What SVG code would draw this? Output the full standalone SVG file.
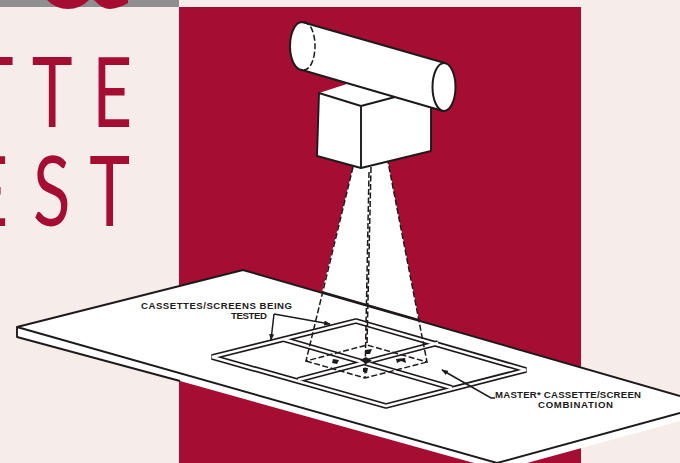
<svg xmlns="http://www.w3.org/2000/svg" width="680" height="463" viewBox="0 0 680 463">
<style>
.big{font-family:"Lato","Liberation Sans",sans-serif;font-size:96px;fill:#a60d33;font-weight:400}
.lb{font-family:"Liberation Sans",Arial,sans-serif;font-weight:700;fill:#1e1a1c;font-size:9.6px}
.ln{fill:none;stroke:#1e1a1c;stroke-width:1.9;stroke-linejoin:round}
.th{fill:none;stroke:#1e1a1c;stroke-width:1.5}
.wf{fill:#fff;stroke:#1e1a1c;stroke-width:2;stroke-linejoin:round}
.ds{fill:none;stroke:#1e1a1c;stroke-width:1.5;stroke-dasharray:6 2.5}
.o{fill:none;stroke:#1e1a1c;stroke-width:5.8;stroke-linejoin:bevel}
.i{fill:none;stroke:#fff;stroke-width:2.4;stroke-linejoin:bevel}
.mk{fill:#1e1a1c}
</style>
<defs><marker id="ah" viewBox="0 0 8 6" refX="7" refY="3" markerWidth="7" markerHeight="5" orient="auto" markerUnits="userSpaceOnUse"><path d="M0 0L8 3L0 6z" fill="#1e1a1c"/></marker></defs>
<g id="background">
<rect width="680" height="463" fill="#f6ecea"/>
<rect x="179" y="7" width="402" height="456" fill="#a60d33"/>
<rect width="179" height="7" fill="#8f8f8f"/>
<path d="M47 0A29 29 0 0 0 89 0z" fill="#a60d33"/>
<path d="M94 0Q102 9 110 9Q120 8 128 3V0z" fill="#a60d33"/>
<text class="big" transform="scale(.72 1)" x="-38 44 128" y="127">TTE</text>
<text class="big" transform="scale(.72 1)" x="-44 46 124" y="226">EST</text>
</g>
<g id="table">
<path d="M17 327V337L180 381L474 463H527L680 421V396L243 270z" fill="#fff"/>
<path class="ln" d="M680 396L243 270L17 327V337L180 381M17 327L497 463L680 413"/>
</g>
<g id="light-beam">
<path d="M353 167L388 162L419 320L322 292z" fill="#fff"/>
<path class="ln" d="M322 292L419 320"/>
</g>
<g id="cassettes">
<path class="o" d="M212 357L356 321L526 370L386 406z"/>
<path class="o" d="M283 339L452 388M298 380L438 343"/>
<path class="i" d="M212 357L356 321L526 370L386 406z"/>
<path class="i" d="M283 339L452 388M298 380L438 343"/>
<path class="mk" d="M360 360L366 357L372 361L366 364z"/>
<path class="mk" d="M333 359L339 360L337 364L332 363zM365 350L372 349L370 354L365 354zM396 359L405 358L406 363L401 361L397 363zM363 368L368 368L367 373L363 372z"/>
</g>
<g id="connectors">
<path class="ds" d="M353 167L306 361L367 345L427 362L388 162M306 361L365 378L427 362"/>
<path class="ds" d="M371 167L367 345M369 172L365 378"/>
<path class="th" d="M274 314L330 324" marker-end="url(#ah)"/>
<path class="th" d="M274 314L271 340" marker-end="url(#ah)"/>
<path class="th" d="M495 398H491L442 370" marker-end="url(#ah)"/>
</g>
<g id="camera">
<path d="M319 93L350 83L395 97L431 107V151L361 168L317 156z" fill="#fff"/>
<path class="ln" d="M395 97L361 106L319 93L317 156L361 168L431 151V107M361 106V168"/>
</g>
<g id="tube">
<path class="wf" d="M302 22L445 63L443 111L302 70A12 24 0 0 1 302 22z"/>
<ellipse class="wf" cx="444" cy="87" rx="11.5" ry="24"/>
<path class="ds" d="M304 22A11 24 0 0 1 304 70"/>
</g>
<g id="labels">
<text class="lb" x="141" y="309" textLength="151" lengthAdjust="spacing">CASSETTES/SCREENS BEING</text>
<text class="lb" x="231" y="319" textLength="36" lengthAdjust="spacing">TESTED</text>
<text class="lb" x="495" y="398" textLength="146" lengthAdjust="spacing">MASTER* CASSETTE/SCREEN</text>
<text class="lb" x="538" y="408" textLength="75" lengthAdjust="spacing">COMBINATION</text>
</g>
</svg>
